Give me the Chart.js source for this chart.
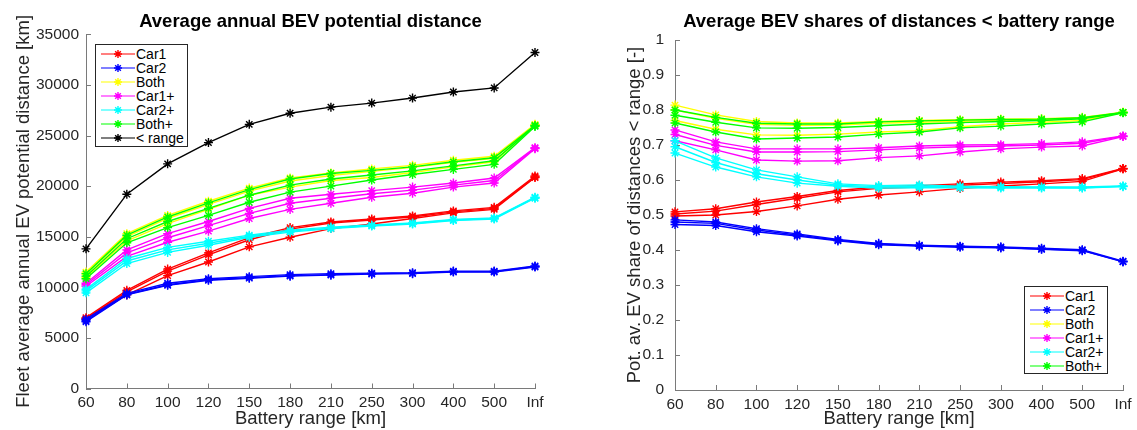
<!DOCTYPE html>
<html>
<head>
<meta charset="utf-8">
<script src="https://cdn.jsdelivr.net/npm/chart.js@4.4.1/dist/chart.umd.min.js"></script>
<style>
  body { margin: 0; background: #fff; font-family: 'Liberation Sans', Arial, sans-serif; }
  #wrap { position: relative; width: 1137px; height: 430px; overflow: hidden; }
  canvas { position: absolute; top: 0; }
  .legend { position: absolute; background: #fff; border: 1px solid #262626; box-sizing: border-box; padding-top: 2px; }
  .legend .row { height: 14px; position: relative; font-size: 14px; line-height: 14px; color: #000; white-space: nowrap; }
  .legend svg { position: absolute; left: 5px; top: 0; }
  .legend span { position: absolute; left: 40px; top: 0; }
</style>
</head>
<body>
<div id="wrap">
  <canvas id="distChart" width="568" height="430" style="left:0"></canvas>
  <canvas id="shareChart" width="569" height="430" style="left:568px"></canvas>
  <div id="distLegend" class="legend" style="left:95px;top:44px;width:93px;height:103px"></div>
  <div id="shareLegend" class="legend" style="left:1024px;top:286px;width:84px;height:88px"></div>
</div>
<script>
// Battery ranges (x axis)
const ranges = ['60', '80', '100', '120', '150', '180', '210', '250', '300', '400', '500', 'Inf'];
const seriesNames = ['Car1', 'Car2', 'Both', 'Car1+', 'Car2+', 'Both+'];
const seriesColors = ['#ff0000', '#0000ff', '#ffff00', '#ff00ff', '#00ffff', '#00ff00'];

// Average annual BEV potential distance [km], several fleet runs per series
const distCar1 = [
  [7000, 9700, 11800, 13400, 14900, 15900, 16450, 16750, 17050, 17550, 17900, 21000],
  [6900, 9550, 11600, 13200, 14700, 15750, 16350, 16650, 16950, 17450, 17800, 20900],
  [6850, 9250, 11150, 12500, 14000, 14950, 15800, 16250, 16800, 17350, 17700, 20850]
];
const distCar2 = [
  [6850, 9400, 10400, 10850, 11050, 11250, 11350, 11400, 11450, 11600, 11600, 12100],
  [6700, 9300, 10250, 10750, 10950, 11150, 11250, 11350, 11400, 11550, 11550, 12050],
  [6600, 9250, 10200, 10700, 10900, 11100, 11200, 11300, 11350, 11500, 11500, 12000]
];
const distBoth = [
  [11500, 15300, 17100, 18500, 19800, 20800, 21300, 21700, 22050, 22550, 22950, 26100],
  [11300, 15000, 16800, 18200, 19500, 20500, 21050, 21450, 21850, 22350, 22750, 26050],
  [11000, 14600, 16300, 17700, 19100, 19900, 20550, 20850, 21350, 21900, 22400, 26000]
];
const distCar1Plus = [
  [10400, 13700, 15300, 16500, 17800, 18800, 19200, 19550, 19900, 20300, 20800, 23800],
  [10250, 13400, 14900, 16100, 17300, 18300, 18800, 19250, 19600, 20100, 20550, 23750],
  [10100, 13050, 14450, 15550, 16800, 17700, 18300, 18900, 19300, 19900, 20300, 23700]
];
const distCar2Plus = [
  [9800, 12850, 13950, 14550, 15150, 15650, 15950, 16150, 16350, 16700, 16850, 18900],
  [9650, 12600, 13700, 14350, 15050, 15550, 15850, 16100, 16300, 16650, 16800, 18850],
  [9450, 12350, 13450, 14150, 14950, 15450, 15800, 16050, 16250, 16600, 16750, 18800]
];
const distBothPlus = [
  [11350, 15150, 16950, 18350, 19650, 20700, 21250, 21550, 21900, 22400, 22800, 26000],
  [11100, 14800, 16500, 17800, 19100, 20100, 20700, 21100, 21500, 22000, 22500, 25950],
  [10850, 14400, 15900, 17100, 18400, 19400, 20000, 20600, 21150, 21650, 22150, 25900]
];
const distBelowRange = [13800, 19200, 22200, 24300, 26100, 27200, 27800, 28200, 28700, 29300, 29700, 33200];
const distTicks = [0, 5000, 10000, 15000, 20000, 25000, 30000, 35000];

// Average BEV shares of distances < battery range [-]
const shareCar1 = [
  [0.509, 0.518, 0.537, 0.553, 0.570, 0.580, 0.584, 0.589, 0.594, 0.598, 0.604, 0.633],
  [0.503, 0.511, 0.530, 0.548, 0.566, 0.576, 0.580, 0.585, 0.590, 0.595, 0.601, 0.632],
  [0.497, 0.500, 0.510, 0.526, 0.545, 0.557, 0.566, 0.576, 0.583, 0.589, 0.596, 0.632]
];
const shareCar2 = [
  [0.486, 0.480, 0.461, 0.446, 0.430, 0.419, 0.414, 0.411, 0.409, 0.405, 0.401, 0.368],
  [0.480, 0.476, 0.457, 0.443, 0.428, 0.417, 0.412, 0.410, 0.407, 0.403, 0.399, 0.367],
  [0.473, 0.470, 0.452, 0.440, 0.426, 0.415, 0.411, 0.408, 0.406, 0.402, 0.398, 0.366]
];
const shareBoth = [
  [0.814, 0.786, 0.767, 0.763, 0.763, 0.767, 0.770, 0.772, 0.774, 0.775, 0.779, 0.794],
  [0.800, 0.776, 0.759, 0.756, 0.757, 0.762, 0.765, 0.768, 0.770, 0.772, 0.776, 0.793],
  [0.770, 0.745, 0.729, 0.728, 0.731, 0.737, 0.741, 0.752, 0.760, 0.765, 0.770, 0.793]
];
const shareCar1Plus = [
  [0.743, 0.709, 0.689, 0.689, 0.689, 0.692, 0.697, 0.700, 0.701, 0.704, 0.709, 0.726],
  [0.730, 0.699, 0.680, 0.680, 0.681, 0.686, 0.691, 0.695, 0.697, 0.700, 0.705, 0.725],
  [0.712, 0.686, 0.657, 0.654, 0.655, 0.664, 0.669, 0.680, 0.689, 0.694, 0.697, 0.724]
];
const shareCar2Plus = [
  [0.712, 0.663, 0.629, 0.609, 0.589, 0.584, 0.586, 0.582, 0.581, 0.580, 0.580, 0.583],
  [0.695, 0.650, 0.618, 0.600, 0.585, 0.581, 0.582, 0.580, 0.579, 0.579, 0.578, 0.582],
  [0.677, 0.637, 0.609, 0.591, 0.582, 0.577, 0.578, 0.578, 0.577, 0.577, 0.577, 0.581]
];
const shareBothPlus = [
  [0.800, 0.779, 0.762, 0.760, 0.760, 0.766, 0.769, 0.771, 0.773, 0.774, 0.778, 0.793],
  [0.785, 0.765, 0.749, 0.748, 0.750, 0.755, 0.760, 0.764, 0.767, 0.770, 0.775, 0.793],
  [0.763, 0.737, 0.717, 0.720, 0.723, 0.731, 0.737, 0.749, 0.754, 0.760, 0.766, 0.792]
];

Chart.defaults.font.family = "'Liberation Sans', Arial, sans-serif";
Chart.defaults.color = '#262626';
const axisColor = '#7a7a7a';

// MATLAB style ticks pointing into the plot
const inwardTicks = {
  id: 'inwardTicks',
  beforeDatasetsDraw(chart) {
    const { ctx, chartArea, scales: { x, y } } = chart;
    ctx.save();
    ctx.strokeStyle = axisColor;
    ctx.lineWidth = 1;
    ctx.beginPath();
    x.ticks.forEach((t, i) => {
      const px = Math.round(x.getPixelForTick(i)) + 0.5;
      ctx.moveTo(px, chartArea.bottom);
      ctx.lineTo(px, chartArea.bottom - 5);
    });
    y.ticks.forEach((t, i) => {
      const py = Math.round(y.getPixelForTick(i)) + 0.5;
      ctx.moveTo(chartArea.left, py);
      ctx.lineTo(chartArea.left + 5, py);
    });
    ctx.stroke();
    ctx.restore();
  }
};

function makeDatasets(groups, extra) {
  const ds = [];
  groups.forEach((runs, g) => {
    runs.forEach(run => ds.push({ data: run, color: seriesColors[g] }));
  });
  if (extra) ds.push({ data: extra, color: '#000000' });
  return ds.map((d, i) => ({
    data: d.data,
    borderColor: d.color,
    backgroundColor: d.color,
    pointBorderColor: d.color,
    borderWidth: 1.4,
    pointStyle: 'star',
    pointRadius: 4.5,
    pointBorderWidth: 1.4,
    tension: 0,
    clip: false,
    order: -i
  }));
}

function makeChart(id, opt) {
  return new Chart(document.getElementById(id), {
    type: 'line',
    data: { labels: ranges, datasets: opt.datasets },
    plugins: [inwardTicks],
    options: {
      responsive: false,
      animation: false,
      events: [],
      layout: { padding: { left: 0, right: opt.padRight, top: 0, bottom: 0 } },
      plugins: {
        legend: { display: false },
        tooltip: { enabled: false },
        title: {
          display: true,
          text: opt.title,
          color: '#000',
          fullSize: false,
          font: { size: 18.5, weight: 'bold' },
          padding: { top: 10.9, bottom: opt.titleGap }
        }
      },
      scales: {
        x: {
          type: 'category',
          offset: false,
          grid: { display: false, drawTicks: false },
          border: { display: true, color: axisColor, width: 1 },
          ticks: { font: { size: 15.5 }, padding: 5, maxRotation: 0, autoSkip: false },
          title: { display: true, text: 'Battery range [km]', font: { size: 18.5 }, padding: { top: 0, bottom: 0 } },
          afterFit(scale) { scale.height = opt.xHeight; }
        },
        y: {
          min: opt.yMin,
          max: opt.yMax,
          afterBuildTicks(scale) { scale.ticks = opt.yTicks.map(v => ({ value: v })); },
          grid: { display: false, drawTicks: false },
          border: { display: true, color: axisColor, width: 1 },
          ticks: { font: { size: 15.5 }, padding: opt.yLabelPad, callback: v => String(+v.toFixed(1)) },
          title: { display: true, text: opt.yTitle, font: { size: 18.5 }, padding: { top: opt.yTitlePad, bottom: 0 } },
          afterFit(scale) { scale.width = opt.yWidth; }
        }
      }
    }
  });
}

makeChart('distChart', {
  datasets: makeDatasets([distCar1, distCar2, distBoth, distCar1Plus, distCar2Plus, distBothPlus], distBelowRange),
  title: 'Average annual BEV potential distance',
  titleGap: 1.2,
  padRight: 33,
  xHeight: 41.5,
  yWidth: 86,
  yMin: 0, yMax: 35000,
  yTicks: distTicks,
  yLabelPad: 7,
  yTitle: 'Fleet average annual EV potential distance [km]',
  yTitlePad: 12.4
});

makeChart('shareChart', {
  datasets: makeDatasets([shareCar1, shareCar2, shareBoth, shareCar1Plus, shareCar2Plus, shareBothPlus]),
  title: 'Average BEV shares of distances < battery range',
  titleGap: 6.9,
  padRight: 14,
  xHeight: 40,
  yWidth: 107,
  yMin: 0, yMax: 1,
  yTicks: [0, 0.1, 0.2, 0.3, 0.4, 0.5, 0.6, 0.7, 0.8, 0.9, 1],
  yLabelPad: 11,
  yTitle: 'Pot. av. EV share of distances < range [-]',
  yTitlePad: 55.4
});

// legends (one entry per colour group)
function starSvg(color) {
  const cx = 17, cy = 7, r = 4, d = r * Math.SQRT1_2;
  return '<svg width="34" height="14"><line x1="0" y1="7" x2="34" y2="7" stroke="' + color + '" stroke-width="1.2"/>' +
    '<path d="M' + (cx - r) + ' ' + cy + 'H' + (cx + r) + 'M' + cx + ' ' + (cy - r) + 'V' + (cy + r) +
    'M' + (cx - d) + ' ' + (cy - d) + 'L' + (cx + d) + ' ' + (cy + d) +
    'M' + (cx - d) + ' ' + (cy + d) + 'L' + (cx + d) + ' ' + (cy - d) + '" stroke="' + color + '" stroke-width="1.4" fill="none"/></svg>';
}
function fillLegend(id, names, colors) {
  const box = document.getElementById(id);
  names.forEach((n, i) => {
    const row = document.createElement('div');
    row.className = 'row';
    row.innerHTML = starSvg(colors[i]);
    const s = document.createElement('span');
    s.textContent = n;
    row.appendChild(s);
    box.appendChild(row);
  });
}
fillLegend('distLegend', seriesNames.concat(['< range']), seriesColors.concat(['#000000']));
fillLegend('shareLegend', seriesNames, seriesColors);
</script>
</body>
</html>
